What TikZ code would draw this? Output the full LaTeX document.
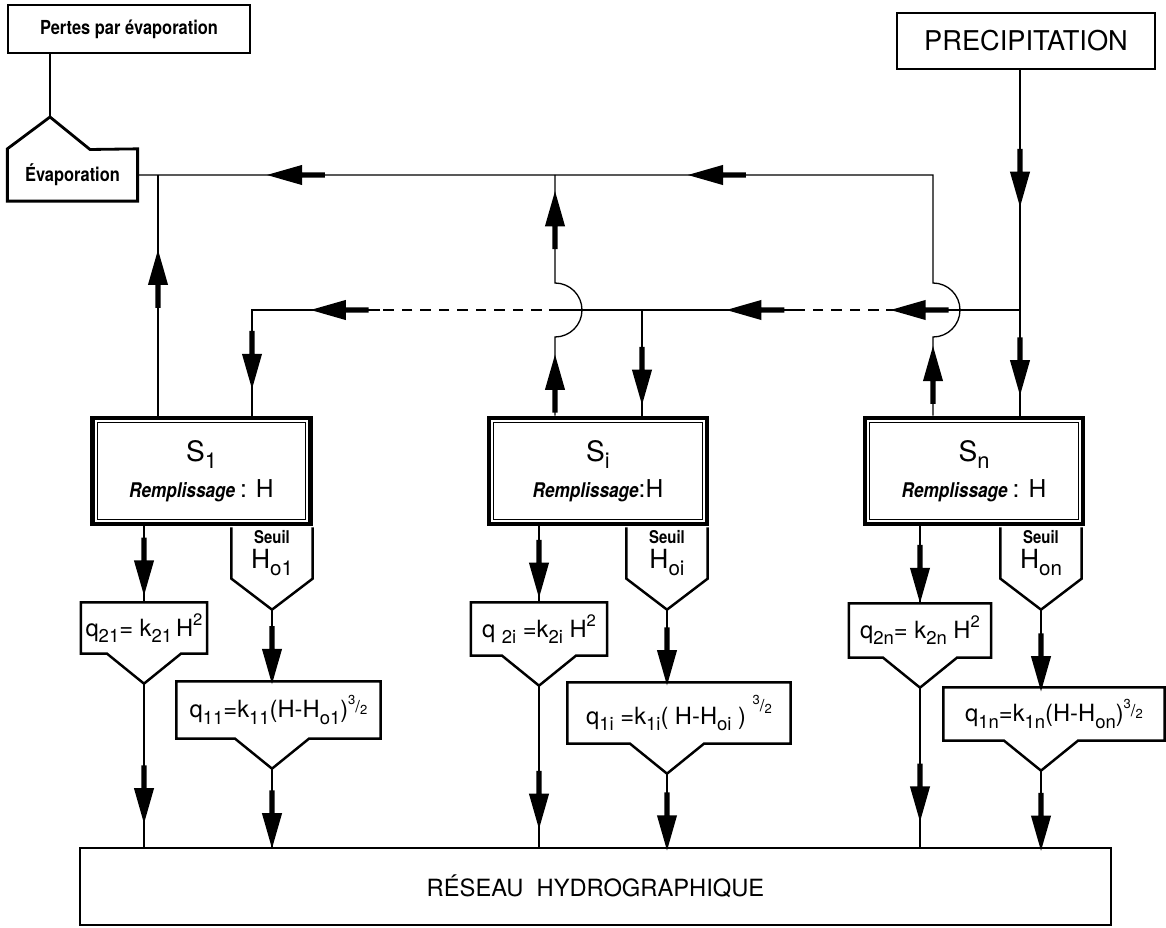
\documentclass[tikz,border=0pt]{standalone}
\usepackage{fontspec}
\usepackage{graphicx}
\usepackage{tikz}
\usetikzlibrary{shapes.arrows,calc}

\setmainfont{TeX Gyre Heros}
\newfontfamily\narrowfont{TeX Gyre Heros}[FakeStretch=0.85]

\newcommand\lo[1]{\raisebox{-0.5ex}{\scalebox{0.78}{#1}}}
\newcommand\hi[1]{\raisebox{0.85ex}{\scalebox{0.7}{#1}}}
\newcommand\threetwo{\raisebox{1.05ex}{\scalebox{0.55}{3}}\raisebox{0.45ex}{\scalebox{0.7}{/}}\raisebox{0.3ex}{\scalebox{0.55}{2}}}

\begin{document}
\begin{tikzpicture}[x=0.02cm,y=-0.02cm,line width=0.75pt,inner sep=0pt]

  \tikzstyle{box}=[draw,line width=1.4pt]
  \tikzstyle{store}=[draw,line width=2.6pt,minimum width=4.36cm,minimum height=2.12cm,align=center]
  \tikzstyle{seuil}=[minimum width=1.6cm,minimum height=1cm,align=center]
  \tikzstyle{flow}=[single arrow,fill=black,inner sep=0pt,inner ysep=1.1pt,minimum height=1.16cm,
                    single arrow head extend=0.15cm,single arrow tip angle=32,sloped,allow upside down]
  \tikzstyle{lbl}=[font=\narrowfont\bfseries\fontsize{11}{12}\selectfont]
  \tikzstyle{eq}=[font=\fontsize{13.5}{15}\selectfont]

  \useasboundingbox (0,0) rectangle (1166,928);

  % sources
  \node[box,lbl,minimum width=4.84cm,minimum height=0.96cm] (pertes) at (129,29) {Pertes par évaporation};
  \node[lbl,minimum width=2.58cm,minimum height=1.02cm] (evap) at (72.5,175) {Évaporation};
  \node[box,minimum width=5.16cm,minimum height=1.12cm,font=\fontsize{15.5}{17}\selectfont] (prec) at (1026,41) {PRECIPITATION};

  % stores
  \node[store] (S1) at (201.5,471) {{\fontsize{16}{18}\selectfont S\lo{1}}\\[5pt]
    {\narrowfont\bfseries\itshape\fontsize{11.5}{13}\selectfont Remplissage} {\fontsize{14}{15}\selectfont : H}};
  \node[store] (Si) at (598,471) {{\fontsize{16}{18}\selectfont S\lo{i}}\\[5pt]
    {\narrowfont\bfseries\itshape\fontsize{11.5}{13}\selectfont Remplissage}{\fontsize{14}{15}\selectfont :H}};
  \node[store] (Sn) at (974,471) {{\fontsize{16}{18}\selectfont S\lo{n}}\\[5pt]
    {\narrowfont\bfseries\itshape\fontsize{11.5}{13}\selectfont Remplissage} {\fontsize{14}{15}\selectfont : H}};

  \node[seuil] (h1) at (272,553) {{\narrowfont\bfseries\fontsize{10}{12}\selectfont Seuil}\\[2pt]{\fontsize{15}{16}\selectfont H\lo{o1}}};
  \node[seuil] (hi) at (667,553) {{\narrowfont\bfseries\fontsize{10}{12}\selectfont Seuil}\\[2pt]{\fontsize{15}{16}\selectfont H\lo{oi}}};
  \node[seuil] (hn) at (1041,553) {{\narrowfont\bfseries\fontsize{10}{12}\selectfont Seuil}\\[2pt]{\fontsize{15}{16}\selectfont H\lo{on}}};

  % outflow laws
  \node[eq,minimum width=2.5cm,minimum height=1cm] (q21) at (144,628) {q\lo{21}= k\lo{21}\,H\hi{2}};
  \node[eq,minimum width=4.06cm,minimum height=1.12cm] (q11) at (278.5,710) {q\lo{11}=k\lo{11}(H-H\lo{o1})\threetwo};
  \node[eq,minimum width=2.7cm,minimum height=1.04cm] (q2i) at (539,629) {q \lo{2i} =k\lo{2i} H\hi{2}};
  \node[eq,minimum width=4.44cm,minimum height=1.2cm] (q1i) at (679,713) {q\lo{1i} =k\lo{1i}( H-H\lo{oi} ) \raisebox{0.6ex}{\threetwo}};
  \node[eq,minimum width=2.82cm,minimum height=1.06cm] (q2n) at (920,630.5) {q\lo{2n}= k\lo{2n} H\hi{2}};
  \node[eq,minimum width=4.4cm,minimum height=1.04cm] (q1n) at (1054,714) {q\lo{1n}=k\lo{1n}(H-H\lo{on})\threetwo};

  \node[draw,line width=1.1pt,minimum width=20.62cm,minimum height=1.54cm,font=\fontsize{13.5}{15}\selectfont]
    (res) at (595.5,886.5) {RÉSEAU\ \ HYDROGRAPHIQUE};

  % tips of the funnels
  \coordinate (h1tip) at ($(h1.south)+(0,31)$);
  \coordinate (hitip) at ($(hi.south)+(0,31)$);
  \coordinate (hntip) at ($(hn.south)+(0,31)$);
  \coordinate (q21tip) at ($(q21.south)+(0,30)$);
  \coordinate (q2itip) at ($(q2i.south)+(0,30)$);
  \coordinate (q2ntip) at ($(q2n.south)+(0,30)$);
  \coordinate (q11tip) at ($(q11.south -| h1tip)+(0,30)$);
  \coordinate (q1itip) at ($(q1i.south -| hitip)+(0,30)$);
  \coordinate (q1ntip) at ($(q1n.south -| hntip)+(0,30)$);

  % outlines
  \coordinate (apex) at (50,117);
  \coordinate (eave) at (90,149.5);
  \draw[line width=1.6pt] (evap.south west) -- (evap.north west) -- (apex) -- (eave)
    -- (evap.north east) -- (evap.south east) -- cycle;
  \foreach \s in {S1,Si,Sn}
    \draw[line width=0.6pt] ([shift={(7,7)}]\s.north west) rectangle ([shift={(-7,-7)}]\s.south east);
  \foreach \h in {h1,hi,hn}
    \draw[box] (\h.north west) -- (\h.south west) -- (\h tip) -- (\h.south east) -- (\h.north east);
  \foreach \q in {q21,q2i,q2n,q11,q1i,q1n}
    \draw[box] (\q.south west) -- (\q.north west) -- (\q.north east) -- (\q.south east)
      -- ($(\q tip)+(37,-30)$) -- (\q tip) -- ($(\q tip)+(-37,-30)$) -- cycle;

  % junctions
  \coordinate (tp1) at (158,175);
  \coordinate (tpi) at (555,175);
  \coordinate (tpn) at (933,175);
  \coordinate (hopi) at (555,337);
  \coordinate (hopn) at (933,337);
  \coordinate (d1) at (252,310);
  \coordinate (di) at (642,310);
  \coordinate (dn) at (1020,310);
  \coordinate (m1) at (897,310);
  \coordinate (m2) at (795,310);
  \coordinate (m3) at (560,310);
  \coordinate (m4) at (380,310);

  % evaporation
  \draw (pertes.south -| apex) -- (apex);
  \draw (S1.north -| tp1) -- node[flow,pos=.55]{} (tp1);
  \draw (Si.north -| tpi) -- node[flow,pos=.35]{} (hopi) arc[start angle=-90,end angle=90,radius=0.54cm]
    -- node[flow,pos=.54]{} (tpi);
  \draw (Sn.north -| tpn) -- node[flow,pos=.46]{} (hopn) arc[start angle=-90,end angle=90,radius=0.54cm]
    -- (tpn) -- node[flow,pos=.56]{} (tpi) -- node[flow,pos=.61]{} (evap.east);

  % precipitation
  \draw (prec.south -| dn) -- node[flow,pos=.43]{} (dn) -- node[flow,pos=.49]{} (Sn.north -| dn);
  \draw (dn) -- node[flow,pos=.78]{} (m1);
  \draw[dash pattern=on 6pt off 4.5pt] (m1) -- (m2);
  \draw (m2) -- node[flow,pos=.23]{} (di) -- (m3);
  \draw[dash pattern=on 6pt off 4.5pt] (m3) -- (m4);
  \draw (m4) -- node[flow,pos=.28]{} (d1) -- node[flow,pos=.43]{} (S1.north -| d1);
  \draw (di) -- node[flow,pos=.58]{} (Si.north -| di);

  % outflows
  \draw (S1.south -| q21) -- node[flow,pos=.47]{} (q21.north);
  \draw (q21tip) -- node[flow,pos=.65]{} (res.north -| q21tip);
  \draw (h1tip) -- node[flow,pos=.57]{} (q11.north -| h1tip);
  \draw (q11tip) -- node[flow,pos=.59]{} (res.north -| q11tip);
  \draw (Si.south -| q2i) -- node[flow,pos=.5]{} (q2i.north);
  \draw (q2itip) -- node[flow,pos=.68]{} (res.north -| q2itip);
  \draw (hitip) -- node[flow,pos=.58]{} (q1i.north -| hitip);
  \draw (q1itip) -- node[flow,pos=.59]{} (res.north -| q1itip);
  \draw (Sn.south -| q2n) -- node[flow,pos=.56]{} (q2n.north);
  \draw (q2ntip) -- node[flow,pos=.63]{} (res.north -| q2ntip);
  \draw (hntip) -- node[flow,pos=.62]{} (q1n.north -| hntip);
  \draw (q1ntip) -- node[flow,pos=.61]{} (res.north -| q1ntip);
\end{tikzpicture}
\end{document}
